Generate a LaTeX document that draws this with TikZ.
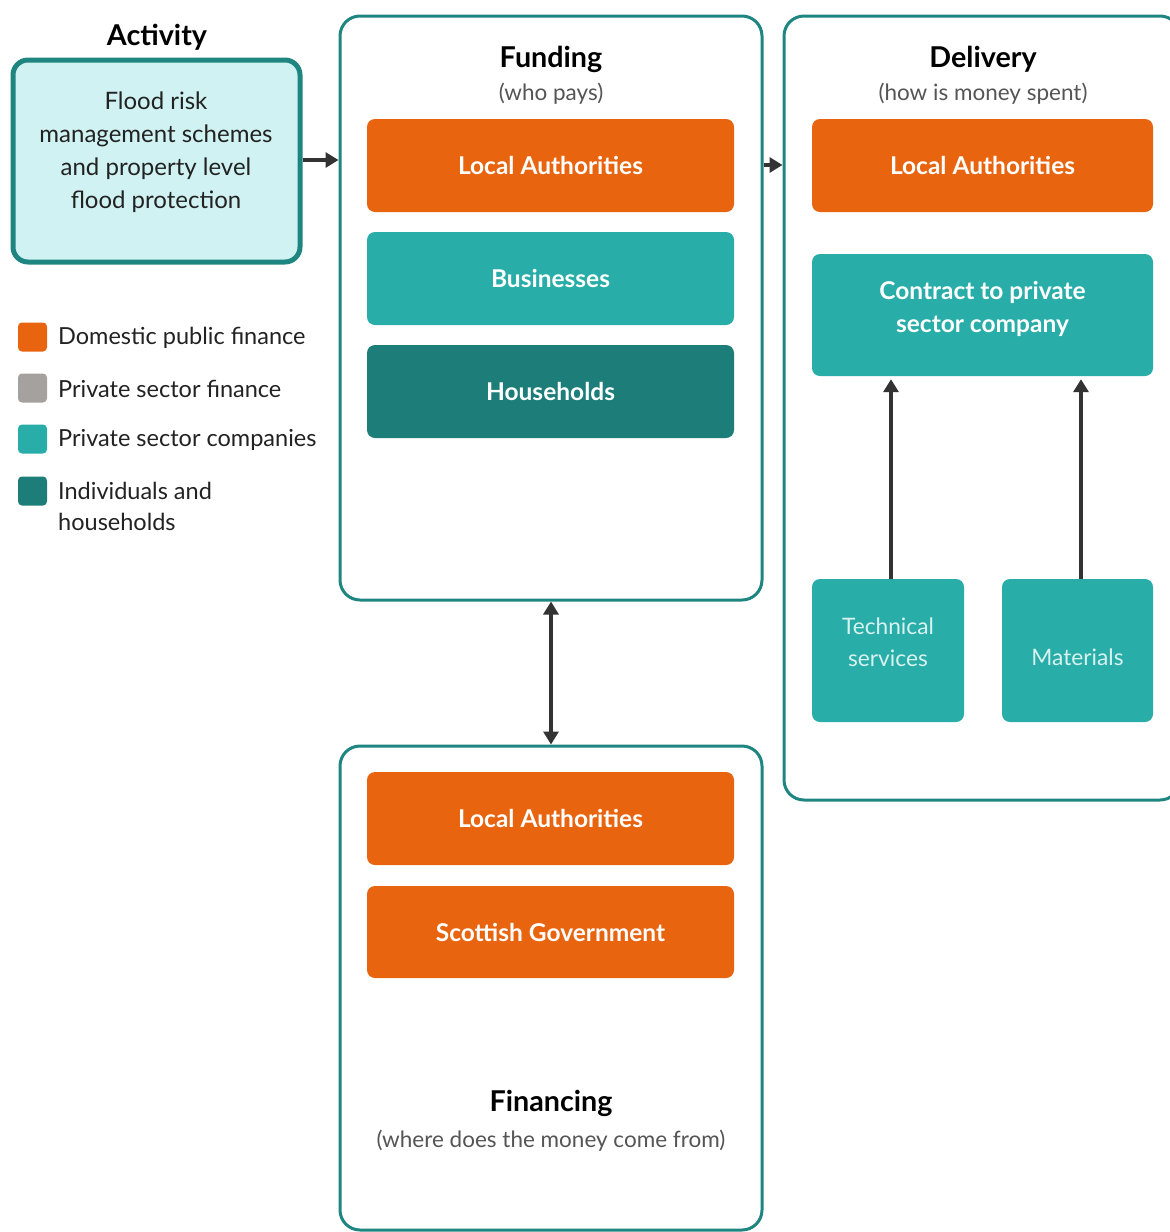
\documentclass[tikz,border=0pt]{standalone}
\usepackage{fontspec}
\setmainfont{Lato}
\usetikzlibrary{arrows.meta}
\definecolor{orng}{HTML}{E8640F}
\definecolor{tealA}{HTML}{29ADA8}
\definecolor{tealD}{HTML}{1D7D79}
\definecolor{bord}{HTML}{1E8580}
\definecolor{lcyan}{HTML}{D0F2F2}
\definecolor{greyL}{HTML}{A5A19F}
\definecolor{arrc}{HTML}{333333}
\definecolor{subg}{HTML}{555555}
\definecolor{txtd}{HTML}{222222}
\definecolor{lighttxt}{HTML}{D8F2F0}
\tikzset{
  frame/.style={draw=bord, line width=3pt, rounded corners=20pt, fill=white},
  fillbox/.style={rounded corners=8pt, text=white, font=\bfseries\fontsize{24.5}{33}\selectfont, align=center, inner sep=0pt},
  orangebox/.style={fillbox, fill=orng},
  tealbox/.style={fillbox, fill=tealA},
  darkbox/.style={fillbox, fill=tealD},
  lightbox/.style={rounded corners=8pt, fill=tealA, inner sep=0pt},
  lighttext/.style={text=lighttxt, font=\fontsize{22.7}{32}\selectfont, align=center, inner sep=0pt},
  boldtext/.style={text=white, font=\bfseries\fontsize{24.5}{33}\selectfont, align=center, inner sep=0pt},
  title/.style={font=\bfseries\fontsize{28.7}{32}\selectfont, text=black, inner sep=0pt},
  subtitle/.style={font=\fontsize{22.5}{26}\selectfont, text=subg, inner sep=0pt},
  legsq/.style={rounded corners=4pt, minimum width=29pt, minimum height=29pt, inner sep=0pt},
  legtxt/.style={font=\fontsize{23.5}{31}\selectfont, text=txtd, anchor=west, align=left, inner sep=0pt},
  arr/.style={draw=arrc, line width=4pt, -{Triangle[length=13pt,width=15pt]}},
  darr/.style={draw=arrc, line width=4pt, {Triangle[length=13pt,width=15pt]}-{Triangle[length=13pt,width=15pt]}},
}
\begin{document}
\begin{tikzpicture}[x=1pt,y=-1pt]
\useasboundingbox (0,0) rectangle (1170,1232);
\clip (0,0) rectangle (1170,1232);
% Activity
\node[title] (acttitle) at (157,37) {Activity};
\node[draw=bord, line width=5pt, fill=lcyan, rounded corners=15pt, minimum width=287pt, minimum height=202pt, inner sep=0pt] (act) at (156.5,161) {};
\node[font=\fontsize{24}{33}\selectfont, text=txtd, align=center, inner sep=0pt] (acttext) at (156,152)
  {Flood risk\\management schemes\\and property level\\flood protection};
% Funding frame
\node[frame, minimum width=422pt, minimum height=584pt, inner sep=0pt] (fund) at (551,308) {};
\node[title] (fundtitle) at (551,59) {Funding};
\node[subtitle] (fundsub) at (551,94) {(who pays)};
\node[orangebox, minimum width=367pt, minimum height=93pt] (fla) at (550.5,165.5) {Local Authorities};
\node[tealbox, minimum width=367pt, minimum height=93pt] (fbus) at (550.5,278.5) {Businesses};
\node[darkbox, minimum width=367pt, minimum height=93pt] (fhh) at (550.5,391.5) {Households};
% Financing frame
\node[frame, minimum width=422pt, minimum height=484pt, inner sep=0pt] (fin) at (551,988) {};
\node[orangebox, minimum width=367pt, minimum height=93pt] (finla) at (550.5,818.5) {Local Authorities};
\node[orangebox, minimum width=367pt, minimum height=92pt] (finsg) at (550.5,932) {Scottish Government};
\node[title] (fintitle) at (551,1103) {Financing};
\node[subtitle] (finsub) at (551,1141) {(where does the money come from)};
% Delivery frame
\node[frame, minimum width=396pt, minimum height=784pt, inner sep=0pt] (del) at (982,408) {};
\node[title] (deltitle) at (983,59) {Delivery};
\node[subtitle] (delsub) at (983,94) {(how is money spent)};
\node[orangebox, minimum width=341pt, minimum height=93pt] (dla) at (982.5,165.5) {Local Authorities};
\node[tealbox, minimum width=341pt, minimum height=122pt] (dcon) at (982.5,315) {};
\node[boldtext] (dcontext) at (982.5,309) {Contract to private\\sector company};
\node[lightbox, minimum width=152pt, minimum height=143pt] (dtech) at (888,650.5) {};
\node[lighttext] (dtechtext) at (888,642) {Technical\\services};
\node[lightbox, minimum width=151pt, minimum height=143pt] (dmat) at (1077.5,650.5) {};
\node[lighttext] (dmattext) at (1077.5,657) {Materials};
% Legend
\node[legsq, fill=orng] (l1) at (32.5,337) {};
\node[legtxt] (l1t) at (58,338) {Domestic public finance};
\node[legsq, fill=greyL] (l2) at (32.5,388) {};
\node[legtxt] (l2t) at (58,389) {Private sector finance};
\node[legsq, fill=tealA] (l3) at (32.5,439) {};
\node[legtxt] (l3t) at (58,440) {Private sector companies};
\node[legsq, fill=tealD] (l4) at (32.5,491) {};
\node[legtxt, anchor=north west] (l4t) at (58,482) {Individuals and\\households};
% Connectors
\draw[arr] (act.east |- 0,160) -- (fund.west |- 0,160);
\draw[arr] (fund.east |- 0,165) -- (del.west |- 0,165);
\draw[darr] (fund.south) -- (fin.north);
\draw[arr, shorten >=3pt] (dtech.north -| 891,0) -- (dcon.south -| 891,0);
\draw[arr, shorten >=3pt] (dmat.north -| 1081,0) -- (dcon.south -| 1081,0);
\end{tikzpicture}
\end{document}
